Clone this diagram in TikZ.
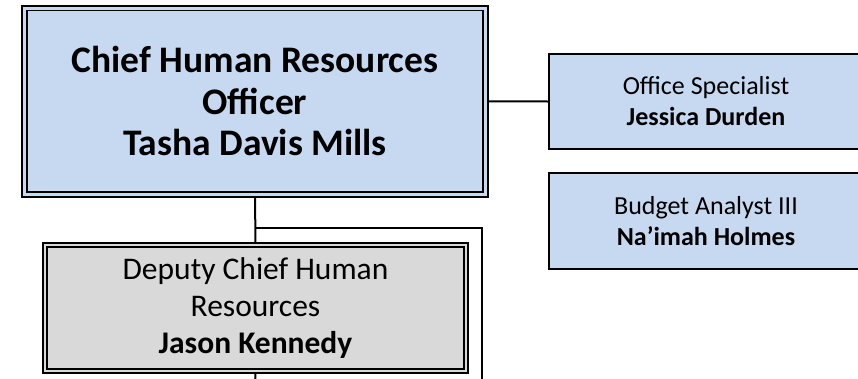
\documentclass[tikz,border=0pt]{standalone}
\usepackage{fontspec}
\setmainfont{Carlito}
\usetikzlibrary{backgrounds}
\definecolor{boxblue}{RGB}{198,217,240}
\definecolor{boxgrey}{RGB}{217,217,217}
\begin{document}
\begin{tikzpicture}[x=1pt,y=-1pt,
  chief/.style={draw,fill=boxblue,line width=1.7pt,double=boxblue,double distance=3pt,align=center,inner sep=0pt,font=\fontsize{37.5}{41.5}\selectfont\bfseries},
  deputy/.style={draw,fill=boxgrey,line width=1.6pt,double=boxgrey,double distance=2.8pt,align=center,inner sep=0pt,font=\fontsize{31.5}{37}\selectfont},
  staff/.style={draw,fill=boxblue,line width=1.8pt,align=center,inner sep=0pt,font=\fontsize{26}{31}\selectfont},
  link/.style={draw,line width=2pt}]
\clip (0,0) rectangle (858,378);
\node[chief,minimum width=461pt,minimum height=186.5pt] (cho) at (255,101.25) {Chief Human Resources\\Officer\\Tasha Davis Mills};
\node[deputy,minimum width=421pt,minimum height=126pt] (dep) at (255.5,308) {Deputy Chief Human\\Resources\\\textbf{Jason Kennedy}};
\node[staff,minimum width=314pt,minimum height=95pt] (office) at (706,101.5) {Office Specialist\\\textbf{Jessica Durden}};
\node[staff,minimum width=314pt,minimum height=96pt] (budget) at (706,221) {Budget Analyst III\\\textbf{Na’imah Holmes}};
\coordinate (split) at (255,228);
\coordinate (drop) at (482,385);
\coordinate (below) at (255,385);
\begin{scope}[on background layer]
\draw[link] (cho.south) -- (dep.north);
\draw[link] (split) -| (drop);
\draw[link] (dep.south) -- (below);
\draw[link] (cho.east) -- (office.west);
\end{scope}
\end{tikzpicture}
\end{document}
